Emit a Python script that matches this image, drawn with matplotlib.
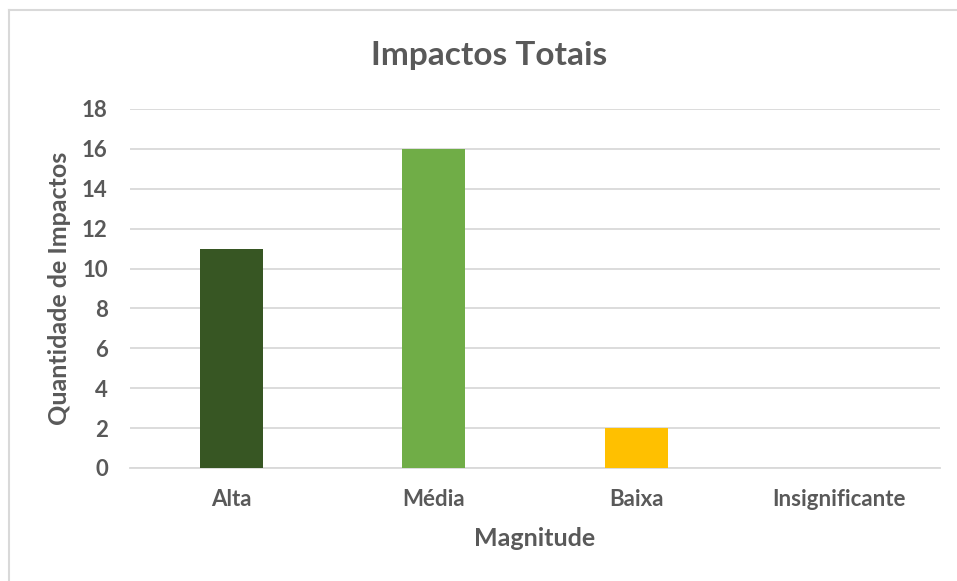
import matplotlib
matplotlib.use("Agg")
import matplotlib.pyplot as plt
from matplotlib.lines import Line2D

categories = ["Alta", "Média", "Baixa", "Insignificante"]
values = [11, 16, 2, 0]
colors = ["#375623", "#70AD47", "#FFC000", "#A5A5A5"]
y_ticks = [0, 2, 4, 6, 8, 10, 12, 14, 16, 18]

plt.rcParams["font.family"] = ["Lato", "DejaVu Sans"]
text_color = "#595959"

W, H = 957, 581
fig = plt.figure(figsize=(W / 100, H / 100), dpi=100)
fig.patch.set_facecolor("white")

# chart frame edges (top and left)
frame_kw = dict(transform=fig.transFigure, color="#D9D9D9", linewidth=1.5)
fig.add_artist(Line2D([8.5 / W, 1.0], [1 - 9.5 / H, 1 - 9.5 / H], **frame_kw))
fig.add_artist(Line2D([8.5 / W, 8.5 / W], [0.0, 1 - 9.5 / H], **frame_kw))

ax = fig.add_axes([130 / W, (H - 468) / H, 810 / W, 359 / H])
x = range(len(categories))
ax.bar(x, values, width=0.31, color=colors, zorder=3)

ax.set_xlim(-0.5, len(categories) - 0.5)
ax.set_ylim(0, 18)
ax.set_yticks(y_ticks)
ax.set_xticks(list(x))
ax.set_xticklabels(categories)
ax.yaxis.grid(True, color="#D9D9D9", linewidth=1.3, zorder=0)
ax.set_axisbelow(True)
for s in ["top", "right", "left"]:
    ax.spines[s].set_visible(False)
ax.spines["bottom"].set_color("#D9D9D9")
ax.spines["bottom"].set_linewidth(1.3)
ax.tick_params(axis="both", length=0, colors=text_color, labelsize=16)
ax.tick_params(axis="y", pad=16)
ax.tick_params(axis="x", pad=15)
for lbl in ax.get_xticklabels() + ax.get_yticklabels():
    lbl.set_fontweight("bold")

fig.text(489 / W, 1 - 55 / H, "Impactos Totais", fontsize=24,
         fontweight="bold", color=text_color, ha="center", va="center")
ax.set_xlabel("Magnitude", fontsize=18, fontweight="bold",
              color=text_color, labelpad=12)
ax.set_ylabel("Quantidade de Impactos", fontsize=18, fontweight="bold",
              color=text_color, labelpad=8)

fig.savefig("out.png", dpi=100, facecolor="white")
